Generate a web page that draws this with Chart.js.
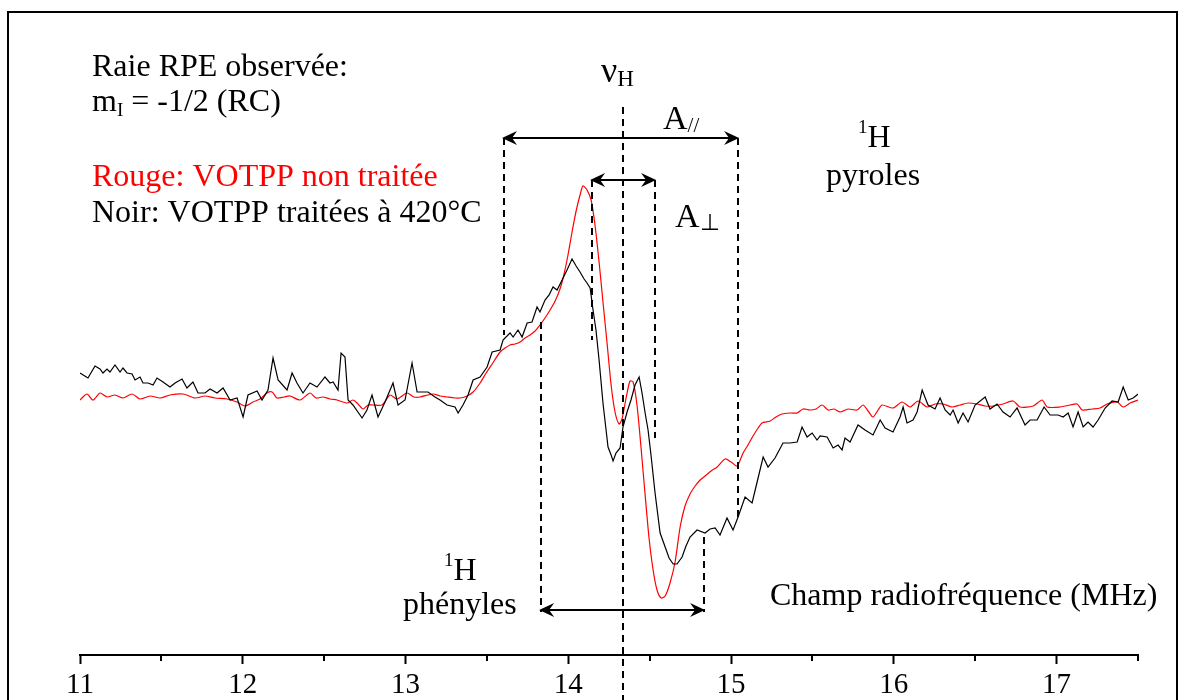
<!DOCTYPE html>
<html>
<head>
<meta charset="utf-8">
<script src="https://cdn.jsdelivr.net/npm/chart.js@4.4.1/dist/chart.umd.min.js"></script>
<style>
  html, body { margin: 0; padding: 0; background: #fff; }
  #wrap { position: relative; width: 1182px; height: 700px; }
</style>
</head>
<body>
<div id="wrap"><canvas id="endorChart" width="1182" height="700"></canvas></div>
<script>
// ENDOR trace, m_I = -1/2 line. Signal in arbitrary units (0 = red baseline).
const redFreq = [11.000, 11.043, 11.080, 11.123, 11.166, 11.215, 11.264, 11.320, 11.369, 11.430,
  11.492, 11.553, 11.633, 11.707, 11.768, 11.829, 11.903, 11.965, 12.014, 12.063,
  12.106, 12.149, 12.180, 12.210, 12.253, 12.290, 12.352, 12.413, 12.450, 12.493,
  12.536, 12.579, 12.641, 12.677, 12.708, 12.739, 12.770, 12.800, 12.856, 12.905,
  12.948, 13.009, 13.052, 13.089, 13.169, 13.212, 13.255, 13.304, 13.335, 13.378,
  13.415, 13.458, 13.495, 13.532, 13.581, 13.611, 13.642, 13.673, 13.704, 13.734,
  13.765, 13.796, 13.826, 13.857, 13.888, 13.919, 13.949, 13.974, 13.998, 14.023,
  14.048, 14.072, 14.090, 14.115, 14.140, 14.164, 14.189, 14.213, 14.238, 14.263,
  14.287, 14.312, 14.330, 14.355, 14.379, 14.398, 14.422, 14.447, 14.472, 14.496,
  14.521, 14.545, 14.570, 14.595, 14.625, 14.656, 14.687, 14.717, 14.748, 14.779,
  14.810, 14.840, 14.877, 14.914, 14.963, 15.000, 15.037, 15.074, 15.104, 15.135,
  15.166, 15.190, 15.240, 15.276, 15.313, 15.362, 15.406, 15.442, 15.485, 15.522,
  15.559, 15.596, 15.633, 15.670, 15.719, 15.774, 15.811, 15.842, 15.872, 15.903,
  15.928, 15.995, 16.051, 16.100, 16.149, 16.204, 16.253, 16.303, 16.358, 16.407,
  16.456, 16.511, 16.561, 16.610, 16.671, 16.733, 16.776, 16.856, 16.911, 16.942,
  17.022, 17.083, 17.126, 17.157, 17.218, 17.267, 17.310, 17.372, 17.409, 17.452,
  17.501];
const redSignal = [0, 6, 0, 7, 3, 5, 2, 6, 1, 4,
  2, 5, 6, 2, 4, 2, 1, -2, -6, -2,
  1, 7, 8, 2, 3, 4, 0, 7, 2, 3,
  1, 0, -3, 0, -4, -9, -5, -5, -5, 5,
  1, 7, 3, 3, 6, 4, 3, 2, 2, 4,
  8, 17, 27, 36, 48, 52, 55, 56, 58, 62,
  65, 69, 75, 82, 90, 99, 111, 126, 145, 168,
  189, 205, 214, 210, 200, 175, 138, 98, 57, 15,
  -12, -24, -19, 2, 19, 18, -5, -48, -95, -138,
  -170, -190, -198, -196, -183, -162, -127, -106, -94, -86,
  -80, -76, -71, -67, -59, -62, -66, -53, -45, -36,
  -28, -23, -21, -17, -14, -13, -13, -9, -10, -9,
  -5, -10, -9, -12, -9, -10, -5, -11, -17, -10,
  -5, -8, -2, -7, -1, -7, -4, -4, -7, -5,
  -3, -4, -6, -6, -4, -1, -7, -6, 0, -7,
  -7, -5, -4, -10, -9, -8, -4, -2, -7, -3,
  0];

const blackFreq = [11.000, 11.049, 11.092, 11.123, 11.141, 11.166, 11.184, 11.215, 11.246, 11.264,
  11.289, 11.320, 11.338, 11.369, 11.387, 11.418, 11.449, 11.473, 11.510, 11.553,
  11.584, 11.627, 11.657, 11.694, 11.725, 11.768, 11.799, 11.842, 11.879, 11.922,
  11.965, 12.002, 12.032, 12.088, 12.118, 12.155, 12.186, 12.217, 12.272, 12.303,
  12.333, 12.370, 12.413, 12.456, 12.505, 12.536, 12.555, 12.585, 12.604, 12.628,
  12.647, 12.677, 12.733, 12.763, 12.794, 12.831, 12.874, 12.923, 12.954, 12.997,
  13.040, 13.071, 13.108, 13.138, 13.181, 13.212, 13.255, 13.304, 13.323, 13.353,
  13.384, 13.415, 13.458, 13.501, 13.532, 13.581, 13.599, 13.642, 13.661, 13.691,
  13.716, 13.747, 13.777, 13.808, 13.826, 13.857, 13.882, 13.906, 13.931, 13.962,
  13.992, 14.023, 14.048, 14.072, 14.097, 14.115, 14.134, 14.152, 14.170, 14.189,
  14.213, 14.232, 14.244, 14.263, 14.275, 14.293, 14.318, 14.336, 14.361, 14.385,
  14.410, 14.435, 14.453, 14.472, 14.490, 14.508, 14.533, 14.564, 14.595, 14.619,
  14.644, 14.668, 14.699, 14.723, 14.748, 14.791, 14.840, 14.871, 14.902, 14.932,
  14.975, 15.012, 15.043, 15.086, 15.129, 15.160, 15.197, 15.227, 15.270, 15.319,
  15.362, 15.406, 15.436, 15.467, 15.498, 15.528, 15.547, 15.590, 15.627, 15.657,
  15.682, 15.700, 15.731, 15.780, 15.823, 15.872, 15.916, 15.946, 15.995, 16.038,
  16.057, 16.081, 16.118, 16.143, 16.174, 16.210, 16.253, 16.284, 16.315, 16.346,
  16.364, 16.395, 16.425, 16.456, 16.499, 16.561, 16.591, 16.634, 16.671, 16.714,
  16.757, 16.806, 16.837, 16.880, 16.923, 16.960, 17.009, 17.040, 17.071, 17.101,
  17.132, 17.163, 17.193, 17.224, 17.255, 17.298, 17.341, 17.378, 17.409, 17.440,
  17.470, 17.501];
const blackSignal = [27, 22, 34, 31, 27, 31, 28, 35, 28, 32,
  27, 26, 20, 23, 17, 17, 15, 22, 18, 13,
  17, 21, 12, 18, 7, 7, 11, 7, 12, 0,
  2, -17, 5, 9, 0, 10, 42, 20, 10, 27,
  17, 7, 17, 13, 23, 17, 18, 10, 47, 43,
  0, -5, -18, -10, 5, -17, -2, 17, -5, 0,
  37, 8, 8, 8, 3, 0, -5, -7, -13, -5,
  5, 20, 23, 33, 48, 50, 60, 67, 63, 70,
  63, 77, 78, 93, 88, 100, 105, 113, 110, 120,
  130, 141, 134, 128, 121, 117, 112, 90, 70, 40,
  -3, -30, -47, -55, -61, -53, -48, -27, -12, 0,
  15, 23, 7, -13, -30, -55, -93, -133, -147, -158,
  -164, -164, -157, -146, -137, -130, -133, -129, -128, -135,
  -118, -130, -117, -97, -103, -82, -57, -67, -58, -43,
  -43, -42, -27, -37, -33, -40, -36, -37, -48, -45,
  -50, -38, -42, -25, -30, -35, -20, -28, -32, -17,
  -7, -23, -20, -12, 10, -5, -9, 2, -10, -15,
  -10, -23, -13, -22, -5, 3, -9, -4, -12, -17,
  -8, -25, -20, -20, -7, -15, -15, -17, -13, -27,
  -12, -27, -22, -27, -20, -8, -1, -2, 13, 0,
  2, 6];

const xMajorTicks = [11, 12, 13, 14, 15, 16, 17];

// dashed guide lines and double arrows, in MHz / signal units
const guides = [
  { f: 13.605, top: 262, bottom: 65 },
  { f: 14.146, top: 220, bottom: 60 },
  { f: 14.336, top: 293, bottom: -300 },
  { f: 14.533, top: 220, bottom: -38 },
  { f: 15.043, top: 262, bottom: -118 },
  { f: 13.833, top: 78, bottom: -212 },
  { f: 14.834, top: -137, bottom: -212 },
];
const spans = [
  { from: 13.605, to: 15.043, at: 262 },
  { from: 14.146, to: 14.533, at: 220 },
  { from: 13.833, to: 14.834, at: -210 },
];

const SERIF = '"Liberation Serif", "Times New Roman", serif';

function toPoints(xs, ys) {
  return xs.map((v, i) => ({ x: v, y: ys[i] }));
}

// draws a run of text pieces: [text, size, baselineShift, color]
function richText(ctx, parts, x, y) {
  let cx = x;
  parts.forEach(([t, size, dy, color]) => {
    ctx.font = size + 'px ' + SERIF;
    ctx.fillStyle = color || '#000';
    ctx.fillText(t, cx, y + (dy || 0));
    cx += ctx.measureText(t).width;
  });
}

function arrowHead(ctx, tx, ty, dir) {
  ctx.beginPath();
  ctx.moveTo(tx, ty);
  ctx.lineTo(tx - dir * 15, ty - 7);
  ctx.lineTo(tx - dir * 10, ty);
  ctx.lineTo(tx - dir * 15, ty + 7);
  ctx.closePath();
  ctx.fill();
}

const marksPlugin = {
  id: 'endorMarks',
  afterDatasetsDraw(chart) {
    const { ctx, scales: { x, y } } = chart;
    ctx.save();

    // minor ticks at half MHz
    ctx.strokeStyle = '#000';
    ctx.lineWidth = 2;
    for (let v = 11.5; v <= 17.5; v += 1) {
      const px = Math.round(x.getPixelForValue(v));
      ctx.beginPath();
      ctx.moveTo(px, y.bottom);
      ctx.lineTo(px, y.bottom + 6);
      ctx.stroke();
    }

    // dashed guides
    ctx.setLineDash([7, 5]);
    guides.forEach(g => {
      const px = Math.round(x.getPixelForValue(g.f));
      ctx.beginPath();
      ctx.moveTo(px, y.getPixelForValue(g.top));
      ctx.lineTo(px, y.getPixelForValue(g.bottom));
      ctx.stroke();
    });
    ctx.setLineDash([]);

    // double arrows
    ctx.fillStyle = '#000';
    spans.forEach(s => {
      const x1 = x.getPixelForValue(s.from) - 2;
      const x2 = x.getPixelForValue(s.to) + 1;
      const py = Math.round(y.getPixelForValue(s.at));
      ctx.beginPath();
      ctx.moveTo(x1 + 6, py);
      ctx.lineTo(x2 - 6, py);
      ctx.stroke();
      arrowHead(ctx, x1, py, -1);
      arrowHead(ctx, x2, py, 1);
    });

    // text
    ctx.textBaseline = 'alphabetic';
    ctx.textAlign = 'left';
    richText(ctx, [['Raie RPE observée:', 32]], 92, 76);
    richText(ctx, [['m', 32], ['I', 19, 5], [' = -1/2 (RC)', 32]], 92, 111);
    richText(ctx, [['Rouge: VOTPP non traitée', 32, 0, '#ff0000']], 92, 186);
    richText(ctx, [['Noir: VOTPP traitées à 420°C', 32]], 92, 222);
    richText(ctx, [['ν', 36], ['H', 23, 4]], 601, 82);
    richText(ctx, [['A', 34], ['//', 21, 3]], 663, 129);
    richText(ctx, [['A', 34], ['⊥', 23, 3]], 675, 227);
    richText(ctx, [['1', 19, -14], ['H', 32]], 858, 147);
    ctx.textAlign = 'center';
    ctx.font = '32px ' + SERIF;
    ctx.fillText('pyroles', 873, 185);
    ctx.textAlign = 'left';
    richText(ctx, [['1', 19, -14], ['H', 32]], 444, 580);
    richText(ctx, [['phényles', 32]], 403, 614);
    richText(ctx, [['Champ radiofréquence (MHz)', 32]], 770, 605);

    // frame
    ctx.lineWidth = 2;
    ctx.strokeRect(8, 12, 1169, 720);
    ctx.restore();
  }
};

new Chart(document.getElementById('endorChart').getContext('2d'), {
  type: 'line',
  data: {
    datasets: [
      {
        label: 'Noir: VOTPP traitées à 420°C',
        data: toPoints(blackFreq, blackSignal),
        borderColor: '#000000',
        borderWidth: 1.2,
        pointRadius: 0,
        tension: 0,
        fill: false,
      },
      {
        label: 'Rouge: VOTPP non traitée',
        data: toPoints(redFreq, redSignal),
        borderColor: '#ff0000',
        borderWidth: 1.2,
        pointRadius: 0,
        tension: 0.25,
        fill: false,
      },
    ],
  },
  options: {
    responsive: false,
    devicePixelRatio: 1,
    animation: false,
    layout: { padding: { left: 80, right: 44, top: 20, bottom: 0 } },
    plugins: { legend: { display: false }, tooltip: { enabled: false } },
    scales: {
      x: {
        type: 'linear',
        min: 11,
        max: 17.5,
        afterBuildTicks: s => { s.ticks = xMajorTicks.map(v => ({ value: v })); },
        afterFit: s => { s.height = 45; },
        border: { display: true, color: '#000', width: 2 },
        grid: { drawOnChartArea: false, drawTicks: true, tickLength: 9, tickWidth: 2, tickColor: '#000' },
        ticks: {
          color: '#000',
          padding: 4,
          maxRotation: 0,
          autoSkip: false,
          font: { family: SERIF, size: 29 },
        },
      },
      y: {
        display: false,
        min: -255,
        max: 380,
      },
    },
  },
  plugins: [marksPlugin],
});
</script>
</body>
</html>
